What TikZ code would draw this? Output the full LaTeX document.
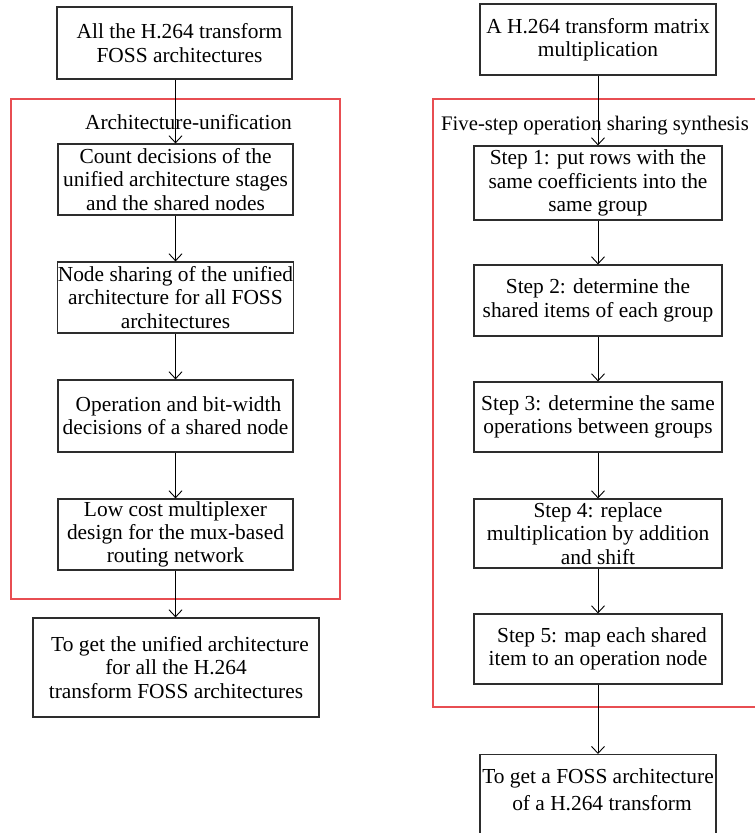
\documentclass[tikz,border=0pt]{standalone}
\usepackage{fontspec}
\setmainfont{Liberation Serif}
\usetikzlibrary{arrows.meta}
\definecolor{framered}{RGB}{232,78,82}
\definecolor{boxgray}{RGB}{45,45,45}
\begin{document}
\begin{tikzpicture}[x=1pt,y=-1pt,
  every node/.style={font=\fontsize{21.4}{23.3}\selectfont},
  stepbox/.style={draw=boxgray,line width=1.2pt,inner sep=0pt,align=center},
  flow/.style={draw=black,line width=0.9pt,-{Straight Barb[length=7pt,width=13pt,line width=0.9pt]}},
  group/.style={draw=framered,line width=1.3pt}]
\useasboundingbox (0,0) rectangle (755,833);
\clip (0,0) rectangle (755,833);

% left column: architecture unification
\draw[group] (11,99) rectangle (340,599);
\node[anchor=base] (lgroup) at (188.5,129) {Architecture-unification};
\node[stepbox,minimum width=235pt,minimum height=72pt] (la) at (174.5,43)
  {\hspace*{10pt}All the H.264 transform\\\hspace*{10pt}FOSS architectures};
\node[stepbox,minimum width=235pt,minimum height=71pt] (l1) at (175.5,179.5)
  {Count decisions of the\\unified architecture stages\\and the shared nodes};
\node[stepbox,minimum width=235pt,minimum height=71pt] (l2) at (175.5,297.5)
  {Node sharing of the unified\\architecture for all FOSS\\architectures};
\node[stepbox,minimum width=235pt,minimum height=72pt] (l3) at (175.5,416)
  {\hspace*{6pt}Operation and bit-width\\decisions of a shared node};
\node[stepbox,minimum width=235pt,minimum height=71pt] (l4) at (175.5,534.5)
  {Low cost multiplexer\\design for the mux-based\\routing network};
\node[stepbox,minimum width=286pt,minimum height=99pt] (l5) at (176,667.5)
  {\hspace*{8pt}To get the unified architecture\\for all the H.264\\transform FOSS architectures};

\draw[flow] (la.south -| l1.north) -- (l1.north);
\draw[flow] (l1) -- (l2);
\draw[flow] (l2) -- (l3);
\draw[flow] (l3) -- (l4);
\draw[flow] (l4.south) -- (l4.south |- l5.north);

% right column: five-step operation sharing synthesis
\draw[group] (433,99) rectangle (780,707);
\node[anchor=base west,inner sep=0pt,font=\fontsize{20.7}{23}\selectfont] (rgroup) at (441,130)
  {Five-step operation sharing synthesis};
\node[stepbox,minimum width=236pt,minimum height=71pt] (ra) at (598,39.5)
  {A H.264 transform matrix\\multiplication};
\node[stepbox,minimum width=248pt,minimum height=74pt] (r1) at (598,183)
  {Step 1: put rows with the\\same coefficients into the\\same group};
\node[stepbox,minimum width=248pt,minimum height=71pt] (r2) at (598,300.5)
  {Step 2: determine the\\shared items of each group};
\node[stepbox,minimum width=248pt,minimum height=70pt] (r3) at (598,417)
  {Step 3: determine the same\\operations between groups};
\node[stepbox,minimum width=248pt,minimum height=69pt] (r4) at (598,533.5)
  {Step 4: replace\\multiplication by addition\\and shift};
\node[stepbox,minimum width=248pt,minimum height=70pt] (r5) at (598,649)
  {\hspace*{8pt}Step 5: map each shared\\item to an operation node};
\node[stepbox,minimum width=236pt,minimum height=100pt,anchor=north] (rf) at (598,754)
  {};
\node[anchor=base] (rftext) at (598,783)
  {To get a FOSS architecture};
\node[anchor=base] (rftext2) at (598,810)
  {\hspace*{8pt}of a H.264 transform};

\draw[flow] (ra) -- (r1);
\draw[flow] (r1) -- (r2);
\draw[flow] (r2) -- (r3);
\draw[flow] (r3) -- (r4);
\draw[flow] (r4) -- (r5);
\draw[flow] (r5) -- (rf);
\end{tikzpicture}
\end{document}
